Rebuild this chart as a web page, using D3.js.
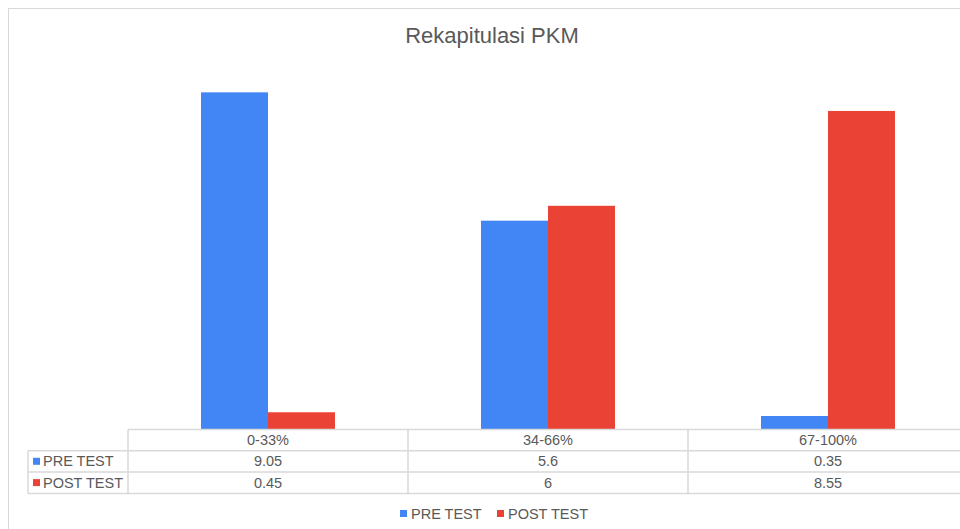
<!DOCTYPE html>
<html>
<head>
<meta charset="utf-8">
<script src="https://cdn.jsdelivr.net/npm/d3@7"></script>
<style>
  body { margin: 0; background: #fff; }
  text { font-family: "Liberation Sans", Arial, sans-serif; fill: #595959; }
</style>
</head>
<body>
<script>
const categories = ["0-33%", "34-66%", "67-100%"];
const seriesNames = ["PRE TEST", "POST TEST"];
const preTest = [9.05, 5.6, 0.35];
const postTest = [0.45, 6, 8.55];
const yTicks = [0, 2, 4, 6, 8, 10];
const colors = ["#4285F4", "#EA4335"];

const width = 960, height = 529;
const series = [preTest, postTest];

const svg = d3.select("body").append("svg")
  .attr("width", width)
  .attr("height", height);

// chart frame
svg.append("rect")
  .attr("x", 8.5).attr("y", 8.5)
  .attr("width", 1000).attr("height", 1000)
  .attr("fill", "none")
  .attr("stroke", "#d9d9d9");

svg.append("text")
  .attr("x", 492).attr("y", 43)
  .attr("text-anchor", "middle")
  .style("font-size", "22px")
  .text("Rekapitulasi PKM");

// plot area
const plotLeft = 128, plotRight = 968;
const x = d3.scaleBand().domain(categories).range([plotLeft, plotRight]);
const x1 = d3.scaleBand().domain(seriesNames).range([0, x.bandwidth()]).paddingInner(0).paddingOuter(1.09);
const y = d3.scaleLinear().domain(d3.extent(yTicks)).range([429, 57]);

const groups = svg.append("g").selectAll("g")
  .data(categories)
  .join("g")
  .attr("transform", d => `translate(${x(d)},0)`);

groups.selectAll("rect")
  .data((d, i) => seriesNames.map((s, j) => ({ s, v: series[j][i], c: colors[j] })))
  .join("rect")
  .attr("x", d => x1(d.s))
  .attr("width", x1.bandwidth())
  .attr("y", d => y(d.v))
  .attr("height", d => y(0) - y(d.v))
  .attr("fill", d => d.c);

// data table
const rowH = 21.3;
const tableTop = 429.5;
const tableLeft = 28;
const grid = svg.append("g")
  .attr("stroke", "#d9d9d9")
  .attr("stroke-width", 1.5)
  .attr("fill", "none");

// horizontal lines
grid.append("line").attr("x1", plotLeft).attr("x2", plotRight).attr("y1", tableTop).attr("y2", tableTop);
[1, 2, 3].forEach(k => {
  grid.append("line")
    .attr("x1", tableLeft).attr("x2", plotRight)
    .attr("y1", tableTop + k * rowH).attr("y2", tableTop + k * rowH);
});
// vertical lines
grid.append("line").attr("x1", tableLeft).attr("x2", tableLeft)
  .attr("y1", tableTop + rowH).attr("y2", tableTop + 3 * rowH);
categories.forEach(c => {
  grid.append("line").attr("x1", x(c)).attr("x2", x(c))
    .attr("y1", tableTop).attr("y2", tableTop + 3 * rowH);
});

const tableText = svg.append("g").style("font-size", "14.5px");
categories.forEach((c, i) => {
  const cx = x(c) + x.bandwidth() / 2;
  tableText.append("text").attr("x", cx).attr("y", tableTop + 15.5)
    .attr("text-anchor", "middle").text(c);
  series.forEach((s, j) => {
    tableText.append("text").attr("x", cx).attr("y", tableTop + (j + 1) * rowH + 15.5)
      .attr("text-anchor", "middle").text(s[i]);
  });
});
seriesNames.forEach((s, j) => {
  const ry = tableTop + (j + 1) * rowH;
  svg.append("rect").attr("x", 33).attr("y", ry + 7).attr("width", 7).attr("height", 7)
    .attr("fill", colors[j]);
  tableText.append("text").attr("x", 43).attr("y", ry + 15.5).text(s);
});

// legend
const legend = svg.append("g").style("font-size", "14.5px");
const legendX = [400, 497];
seriesNames.forEach((s, j) => {
  legend.append("rect").attr("x", legendX[j]).attr("y", 510).attr("width", 7).attr("height", 7)
    .attr("fill", colors[j]);
  legend.append("text").attr("x", legendX[j] + 11).attr("y", 518.5).text(s);
});
</script>
</body>
</html>
